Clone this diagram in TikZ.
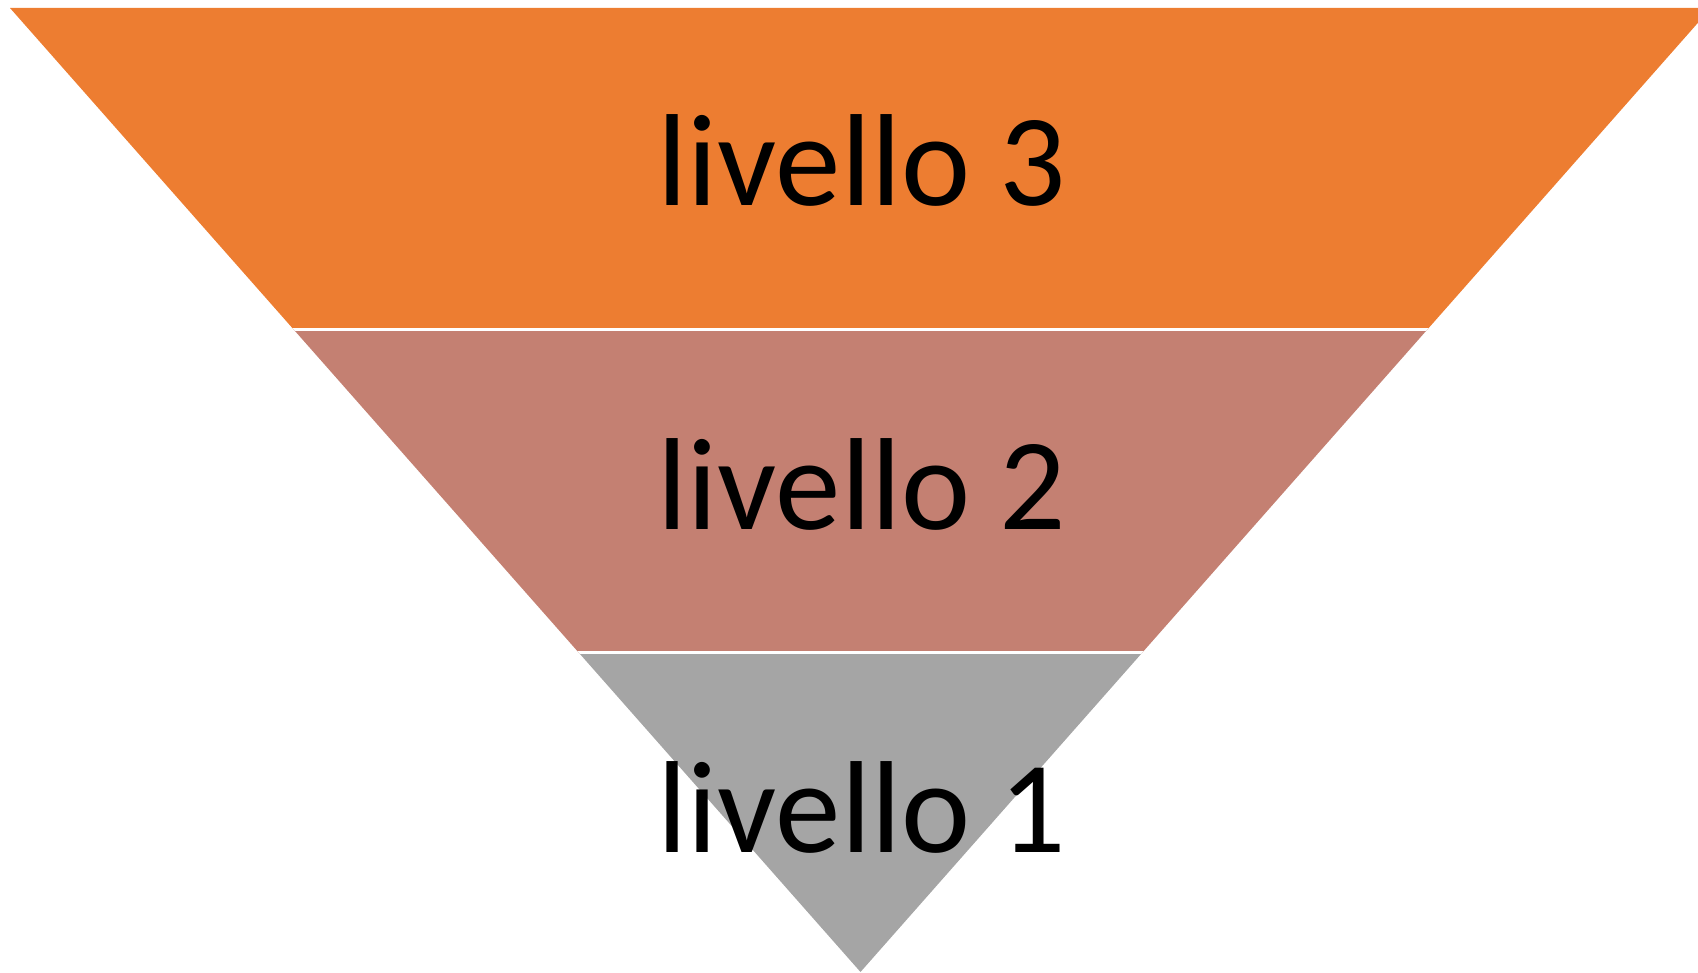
\documentclass[tikz,border=0pt]{standalone}
\usepackage{fontspec}
\setmainfont{Carlito}
\definecolor{lvthree}{HTML}{ED7D31}
\definecolor{lvtwo}{HTML}{C48072}
\definecolor{lvone}{HTML}{A5A5A5}
\tikzset{
  lvlabel/.style={inner sep=0pt, anchor=base, text=black, font=\fontsize{131}{131}\selectfont},
  sepline/.style={draw=white, line width=3pt}
}
\begin{document}
\begin{tikzpicture}[x=1pt,y=-1pt]
\useasboundingbox (0,0) rectangle (1698,973);
\begin{scope}
  \clip (0,0) rectangle (1698,973);
  \clip (10,8) -- (1711,8) -- (860.5,972) -- cycle;
  \fill[lvthree] (0,0) rectangle (1720,330);
  \fill[lvtwo] (0,330) rectangle (1720,652.5);
  \fill[lvone] (0,652.5) rectangle (1720,980);
  \draw[sepline] (0,330) -- (1720,330);
  \draw[sepline] (0,652.5) -- (1720,652.5);
\end{scope}
\node[lvlabel] (l3) at (862,206) {livello 3};
\node[lvlabel] (l2) at (862,529) {livello 2};
\node[lvlabel] (l1) at (862,852) {livello 1};
\end{tikzpicture}
\end{document}
